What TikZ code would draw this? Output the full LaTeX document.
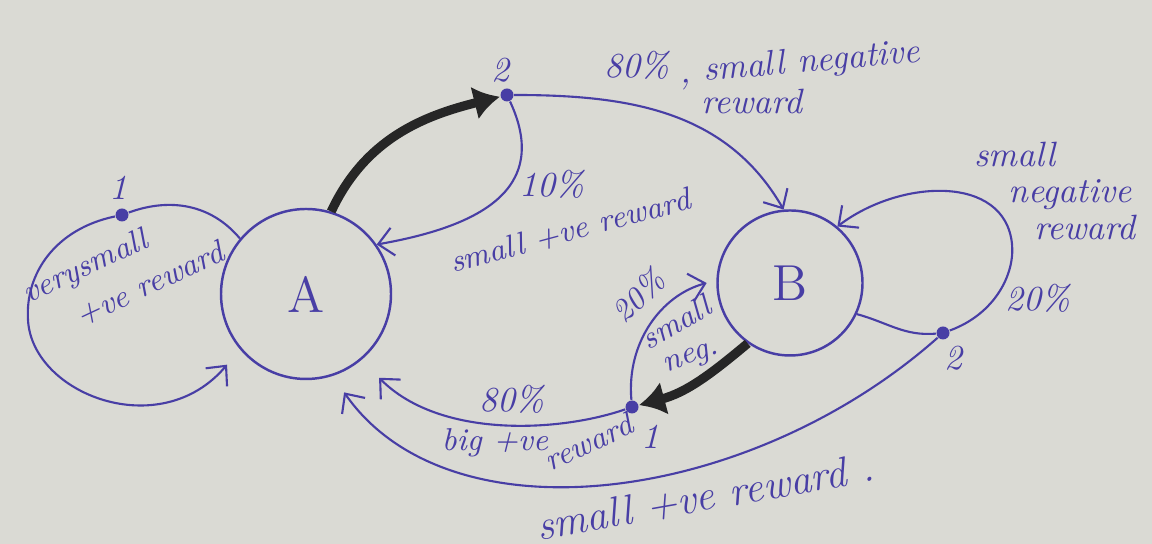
\documentclass[tikz,border=0pt]{standalone}
\usetikzlibrary{arrows.meta}
\definecolor{ink}{RGB}{72,62,165}
\definecolor{paper}{RGB}{218,218,212}
\begin{document}
\begin{tikzpicture}[
	state/.style={draw=ink, text=ink, circle, line width=0.7pt, inner sep=0pt, minimum size=#1, font=\Large},
	dot/.style={circle, fill=ink, inner sep=0pt, minimum size=1.3mm},
	txt/.style={text=ink, font=\itshape},
	stxt/.style={text=ink, font=\small\itshape},
	link/.style={draw=ink, line width=0.6pt},
	arr/.style={link, -{Straight Barb[length=1.5mm,width=2.8mm]}},
	bigarrow/.style={draw=black!85, line width=2.6pt, -{Latex[length=2.6mm,width=3.4mm]}}]
		\fill[paper] (0,0) rectangle (11.52,5.44);
		\useasboundingbox (0,0) rectangle (11.52,5.44);

		\node[state=1.7cm] (A) at (3.06,2.50) {A};
		\node[state=1.45cm] (B) at (7.90,2.61) {B};
		\node[dot] (A1) at (1.22,3.29) {};
		\node[dot] (A2) at (5.07,4.49) {};
		\node[dot] (B1) at (6.32,1.37) {};
		\node[dot] (B2) at (9.43,2.11) {};

		\node[txt] (nA1) at (1.18,3.56) {1};
		\node[txt] (nA2) at (5.00,4.74) {2};
		\node[txt] (nB1) at (6.50,1.07) {1};
		\node[txt] (nB2) at (9.53,1.86) {2};

		\node[stxt, rotate=25] (rA1a) at (0.86,2.76) {verysmall};
		\node[stxt, rotate=25] (rA1b) at (1.50,2.60) {+ve reward};
		\node[txt] (pAB) at (6.37,4.79) {80\%};
		\node[txt, rotate=5] (rABa) at (8.00,4.80) {, small negative};
		\node[txt] (rABb) at (7.52,4.42) {reward};
		\node[txt] (pAA) at (5.52,3.60) {10\%};
		\node[stxt, rotate=15] (rAA) at (5.70,3.13) {small +ve reward};
		\node[txt] (rBBa) at (10.15,3.89) {small};
		\node[txt] (rBBb) at (10.70,3.49) {negative};
		\node[txt] (rBBc) at (10.85,3.16) {reward};
		\node[txt] (pBB) at (10.38,2.46) {20\%};
		\node[stxt, rotate=45] (pB1B) at (6.38,2.48) {20\%};
		\node[stxt, rotate=30] (rB1Ba) at (6.76,2.22) {small};
		\node[stxt, rotate=20] (rB1Bb) at (6.92,1.85) {neg.};
		\node[txt] (pB1A) at (5.12,1.45) {80\%};
		\node[stxt] (rB1Aa) at (4.95,1.01) {big +ve};
		\node[stxt, rotate=25] (rB1Ab) at (5.88,1.02) {reward};
		\node[txt, rotate=10, font=\large\itshape] (rB2A) at (7.05,0.47) {small +ve reward .};

		% action 1 out of A
		\draw[link] (A.140) to[out=130,in=20] (A1);
		\draw[arr, shorten >=2mm] (A1) .. controls (0.55,3.15) and (0.25,2.7) .. (0.28,2.24) .. controls (0.32,1.5) and (1.6,1.0) .. (A.220);
		% action 2 out of A
		\draw[bigarrow] (A.73) to[out=65,in=194] (A2);
		\draw[arr] (A2) to[out=-65,in=10,looseness=1.3] (A.35);
		\draw[arr] (A2) to[out=0,in=120] (B.95);
		% action 2 out of B
		\draw[link] (B.-25) to[out=-15,in=185] (B2);
		\draw[arr] (B2) .. controls (9.95,2.3) and (10.15,2.7) .. (10.12,3.0) .. controls (10.05,3.7) and (9.0,3.65) .. (B.50);
		\draw[arr, shorten >=2mm] (B2) .. controls (7.5,0.4) and (4.5,0.0) .. (A.-72);
		% action 1 out of B
		\draw[bigarrow] (B.235) to[out=220,in=15] (B1);
		\draw[arr, shorten >=2.5mm] (B1) .. controls (5.6,1.12) and (4.4,1.05) .. (A.-50);
		\draw[arr, shorten >=1mm] (B1) to[out=95,in=195] (B.178);
	\end{tikzpicture}
\end{document}
